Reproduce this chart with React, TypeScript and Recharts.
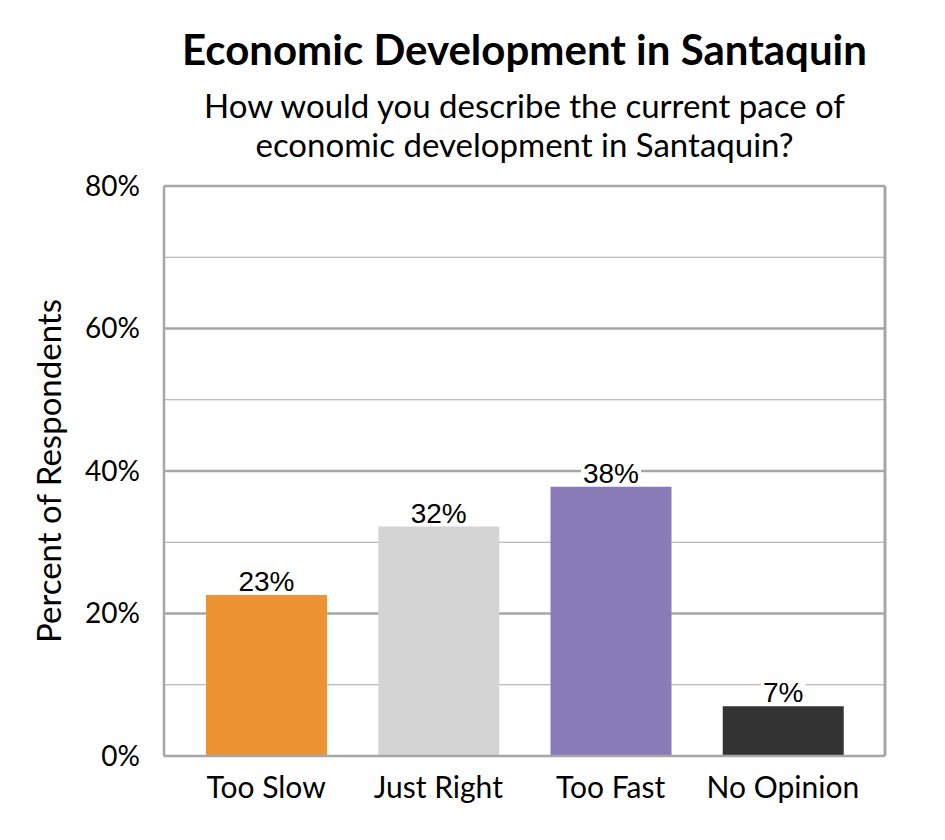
import { BarChart, Bar, XAxis, YAxis, CartesianGrid, Cell, LabelList } from 'recharts'

const categories = ['Too Slow', 'Just Right', 'Too Fast', 'No Opinion']
const percents = [22.6, 32.2, 37.8, 7.0]
const valueLabels = ['23%', '32%', '38%', '7%']
const barColors = ['#ED9333', '#D4D4D4', '#887BB7', '#333333']
const yTicks = [0, 20, 40, 60, 80]
const majorLines = [20, 40, 60, 80]
const minorLines = [10, 30, 50, 70]

const data = categories.map((name, i) => ({ name, value: percents[i], label: valueLabels[i] }))

const GRID = '#a6a6a6'
const AXIS_FONT = 'Lato, "Noto Sans", sans-serif'
const LABEL_FONT = '"Liberation Sans", Arial, sans-serif'

function ValueLabel(props: any) {
  const { x, y, width, index } = props
  const text = valueLabels[index]
  const fs = 28
  const cx = x + width / 2
  const tw = text.split('').reduce((s: number, c: string) => s + (c === '%' ? 0.889 : 0.556), 0) * fs
  return (
    <g>
      <rect x={cx - tw / 2 - 2} y={y - 27} width={tw + 4} height={24} fill="#fff" />
      <text x={cx} y={y - 4} textAnchor="middle" fontSize={fs} fontFamily={LABEL_FONT} fill="#000">
        {text}
      </text>
    </g>
  )
}

function YLabel() {
  return (
    <text
      x={48}
      y={471}
      transform="rotate(-90, 48, 471)"
      textAnchor="middle"
      dominantBaseline="central"
      fontSize={33}
      fontFamily={AXIS_FONT}
      fill="#000"
    >
      Percent of Respondents
    </text>
  )
}

export default function App() {
  return (
    <div style={{ position: 'absolute', left: 0, top: 0, width: 945, height: 840, background: '#fff' }}>
      <div
        style={{
          position: 'absolute',
          left: 124.5,
          width: 800,
          top: 23,
          textAlign: 'center',
          fontFamily: AXIS_FONT,
          color: '#000',
        }}
      >
        <div style={{ fontSize: 42, fontWeight: 700, lineHeight: '52px' }}>Economic Development in Santaquin</div>
        <div style={{ fontSize: 33, lineHeight: '39px', marginTop: 11 }}>
          How would you describe the current pace of
          <br />
          economic development in Santaquin?
        </div>
      </div>
      <div style={{ position: 'absolute', left: 0, top: 0 }}>
        <BarChart width={945} height={840} data={data} margin={{ top: 186, right: 59, bottom: 24, left: 0 }}>
          <CartesianGrid vertical={false} horizontalValues={minorLines} stroke={GRID} strokeWidth={1} />
          <CartesianGrid vertical={false} horizontalValues={majorLines} stroke={GRID} strokeWidth={2.5} />
          <XAxis
            dataKey="name"
            height={60}
            padding={{ left: 16, right: 16 }}
            tickLine={false}
            tickSize={0}
            tickMargin={21}
            axisLine={{ stroke: GRID, strokeWidth: 2.5 }}
            tick={{ fontSize: 30, fontFamily: AXIS_FONT, fill: '#000' }}
            interval={0}
          />
          <YAxis
            width={164}
            domain={[0, 80]}
            ticks={yTicks}
            tickFormatter={(v: number) => `${v}%`}
            tickLine={false}
            tickSize={0}
            tickMargin={24}
            axisLine={{ stroke: GRID, strokeWidth: 2.5 }}
            tick={{ fontSize: 28, fontFamily: AXIS_FONT, fill: '#000' }}
            label={{ content: () => <YLabel /> }}
          />
          <YAxis
            yAxisId="right"
            orientation="right"
            width={1}
            domain={[0, 80]}
            tick={false}
            tickLine={false}
            axisLine={{ stroke: GRID, strokeWidth: 3 }}
          />
          <Bar dataKey="value" barSize={121} isAnimationActive={false}>
            {data.map((d, i) => (
              <Cell key={d.name} fill={barColors[i]} />
            ))}
            <LabelList dataKey="label" content={(p: any) => <ValueLabel {...p} />} />
          </Bar>
        </BarChart>
      </div>
    </div>
  )
}
